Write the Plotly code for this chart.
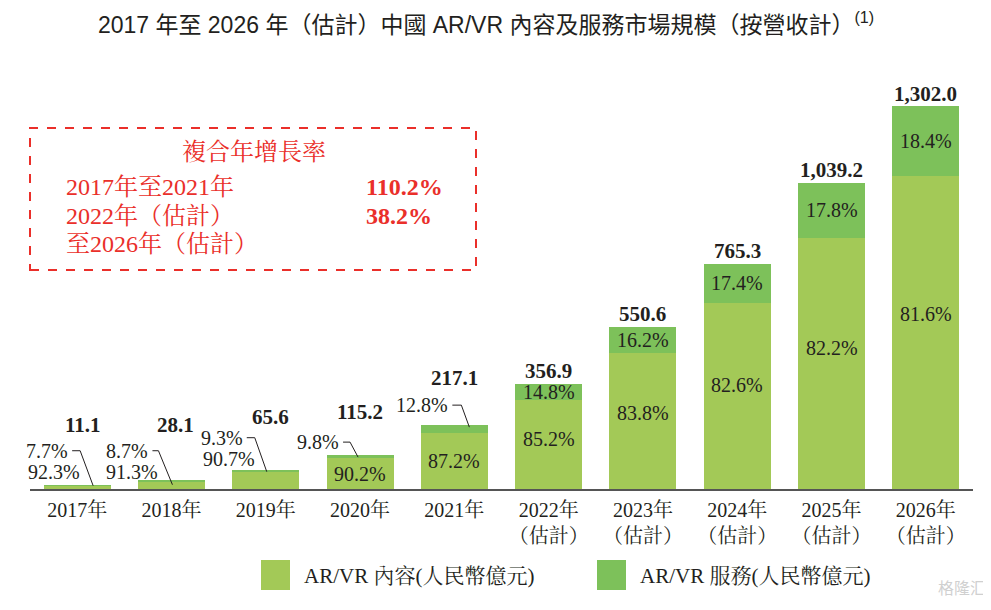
import plotly.graph_objects as go

# Chart data
years = ['2017年', '2018年', '2019年', '2020年', '2021年',
         '2022年<br>（估計）', '2023年<br>（估計）', '2024年<br>（估計）',
         '2025年<br>（估計）', '2026年<br>（估計）']
totals = [11.1, 28.1, 65.6, 115.2, 217.1, 356.9, 550.6, 765.3, 1039.2, 1302.0]
content_pct = [92.3, 91.3, 90.7, 90.2, 87.2, 85.2, 83.8, 82.6, 82.2, 81.6]
service_pct = [7.7, 8.7, 9.3, 9.8, 12.8, 14.8, 16.2, 17.4, 17.8, 18.4]

cagr_labels = ['2017年至2021年', '2022年（估計）', '至2026年（估計）']
cagr_values = ['110.2%', '38.2%', '']

content = [t * p / 100 for t, p in zip(totals, content_pct)]
service = [t - c for t, c in zip(totals, content)]
xs = list(range(len(years)))

C_CONTENT = '#a3c957'
C_SERVICE = '#7dc15a'
TXT = '#231f20'
RED = '#ea2f2a'
SERIF = 'Liberation Serif, Noto Serif CJK TC, Noto Sans CJK TC, serif'
SANS = 'Liberation Sans, Noto Sans CJK TC, sans-serif'

# the page body has an 8px margin, so the figure is a bit smaller
OFF = 8
FW, FH = 991 - OFF, 610 - OFF
# plot area (page pixels: x 30..973, baseline at y 489)
L, T = 30 - OFF, 60 - OFF
R = FW - (973 - OFF)
B = FH - (489 - OFF)
W, H = FW - L - R, FH - T - B


def px(x):
    # page pixel -> paper x
    return (x - OFF - L) / W


def py(y):
    # page pixel -> paper y
    return (489 - y) / H


fig = go.Figure()
fig.add_trace(go.Bar(x=xs, y=content, name='AR/VR 內容(人民幣億元)',
                     marker=dict(color=C_CONTENT, line=dict(width=0)),
                     width=0.71, showlegend=False))
fig.add_trace(go.Bar(x=xs, y=service, name='AR/VR 服務(人民幣億元)',
                     marker=dict(color=C_SERVICE, line=dict(width=0)),
                     width=0.71, showlegend=False))

ann = []
shapes = []

# total labels above bars (pixel lift of label centre)
total_lift = [61, 56, 53, 43, 47, 13, 13, 13, 13, 12]
total_dx = [6, 4, 5, 0, 0, 0, 0, 0, 0, 0]
for i, t in enumerate(totals):
    ann.append(dict(x=i, y=t, text='<b>%s</b>' % format(t, ',.1f'), showarrow=False,
                    xanchor='center', yanchor='middle', xshift=total_dx[i], yshift=total_lift[i],
                    font=dict(family=SERIF, size=21, color=TXT)))

# outside labels with leader lines for the first bars
svc_off = [(-7, 35), (-21, 30), (-21, 32), (-19, 13), (-4, 20)]
cnt_off = [(5, 14), (-11, 9), (-9, 11)]
leaders = [[(-5, 35), (3, 35), (16, 0)],
           [(-19, 30), (-13, 30), (1, -4)],
           [(-19, 32), (-11, 32), (1, -2)],
           [(-17, 13), (-10, 13), (-2, -2)],
           [(-2, 20), (7, 20), (15, -2)]]

pct_font = dict(family=SERIF, size=20, color=TXT)
for i in range(len(totals)):
    if i < len(svc_off):
        dx, up = svc_off[i]
        ann.append(dict(x=i, y=totals[i], text='%.1f%%' % service_pct[i], showarrow=False,
                        xanchor='right', yanchor='middle', xshift=dx, yshift=up, font=pct_font))
        path = 'M %d %d L %d %d L %d %d' % tuple(v for p in leaders[i] for v in p)
        shapes.append(dict(type='path', xref='x', yref='y', xsizemode='pixel', ysizemode='pixel',
                           xanchor=i, yanchor=totals[i], path=path,
                           line=dict(color=TXT, width=1)))
    else:
        ann.append(dict(x=i, y=content[i] + service[i] / 2, text='%.1f%%' % service_pct[i],
                        showarrow=False, xanchor='center', yanchor='middle', font=pct_font))
    if i < len(cnt_off):
        dx, up = cnt_off[i]
        ann.append(dict(x=i, y=totals[i], text='%.1f%%' % content_pct[i], showarrow=False,
                        xanchor='right', yanchor='middle', xshift=dx, yshift=up, font=pct_font))
    else:
        frac = 0.5 if i < 5 else 0.56
        ann.append(dict(x=i, y=content[i] * frac, text='%.1f%%' % content_pct[i],
                        showarrow=False, xanchor='center', yanchor='middle', font=pct_font))

# CAGR box
shapes.append(dict(type='rect', xref='paper', yref='paper',
                   x0=px(30), x1=px(476), y0=py(270), y1=py(128),
                   line=dict(color=RED, width=2, dash='dash')))
ann.append(dict(xref='paper', yref='paper', x=px(254), y=py(152), text='複合年增長率',
                showarrow=False, xanchor='center', yanchor='middle',
                font=dict(family=SERIF, size=24, color=RED)))
for k, (lab, val) in enumerate(zip(cagr_labels, cagr_values)):
    yy = [187, 216, 244][k]
    ann.append(dict(xref='paper', yref='paper', x=px(64), y=py(yy), text=lab,
                    xanchor='left', yanchor='middle', showarrow=False,
                    font=dict(family=SERIF, size=24, color=RED)))
    if val:
        ann.append(dict(xref='paper', yref='paper', x=px(364), y=py(yy), text='<b>%s</b>' % val,
                        xanchor='left', yanchor='middle', showarrow=False,
                        font=dict(family=SERIF, size=24, color=RED)))

# legend drawn by hand
for x0, col, lab in [(261, C_CONTENT, 'AR/VR 內容(人民幣億元)'),
                     (597, C_SERVICE, 'AR/VR 服務(人民幣億元)')]:
    shapes.append(dict(type='rect', xref='paper', yref='paper', x0=px(x0), x1=px(x0 + 29),
                       y0=py(590), y1=py(560), fillcolor=col, line=dict(width=0)))
    ann.append(dict(xref='paper', yref='paper', x=px(x0 + 41), y=py(576), text=lab,
                    xanchor='left', yanchor='middle', showarrow=False,
                    font=dict(family=SERIF, size=21, color=TXT)))

# watermark
ann.append(dict(xref='paper', yref='paper', x=px(988), y=py(588), text='格隆汇',
                xanchor='right', yanchor='middle', showarrow=False,
                font=dict(family=SANS, size=16, color='#d0d0d0')))

fig.update_layout(
    width=FW, height=FH,
    margin=dict(l=L, r=R, t=T, b=B),
    barmode='stack', bargap=0.29,
    plot_bgcolor='white', paper_bgcolor='white',
    title=dict(text='2017 年至 2026 年（估計）中國 AR/VR 內容及服務市場規模（按營收計）<sup>(1)</sup>',
               x=(486 - OFF) / FW, xanchor='center', y=1 - (25 - OFF) / FH, yanchor='middle',
               font=dict(family=SANS, size=23, color=TXT)),
    xaxis=dict(range=[-0.5, 9.5], tickvals=xs, ticktext=years, showline=True,
               linecolor='#555555', linewidth=2, showgrid=False, zeroline=False,
               ticks='', ticklabelstandoff=2,
               tickfont=dict(family=SERIF, size=20, color=TXT)),
    yaxis=dict(range=[0, H / 0.2942], visible=False, showgrid=False),
    annotations=ann, shapes=shapes,
)

fig.write_html('out.html')
